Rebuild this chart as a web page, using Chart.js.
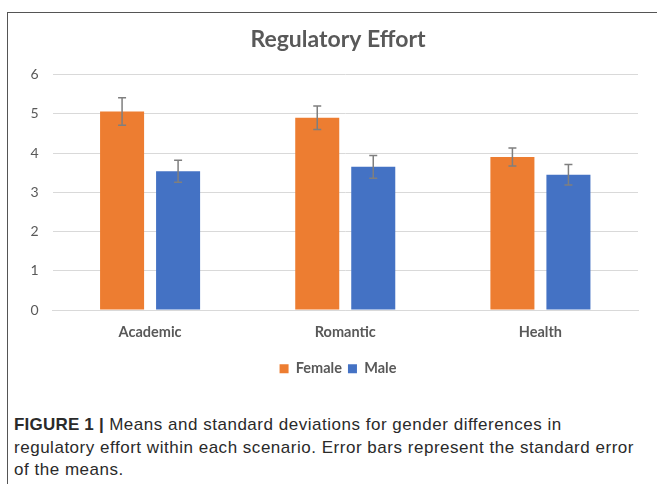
<!DOCTYPE html>
<html>
<head>
<meta charset="utf-8">
<script src="https://cdn.jsdelivr.net/npm/chart.js@4/dist/chart.umd.min.js"></script>
<style>
  body { margin: 0; background: #fff; width: 657px; height: 484px; overflow: hidden; position: relative; }
  #frame { position: absolute; left: 7px; top: 12px; width: 700px; height: 500px; border-left: 1.5px solid #555; border-top: 1.5px solid #555; }
  #wrap { position: absolute; left: 0; top: 0; width: 687px; height: 390px; }
  #caption { position: absolute; left: 14px; top: 414px; font-family: "Liberation Sans", Arial, sans-serif; font-size: 17px; letter-spacing: 0.52px; line-height: 22.5px; color: #2a2a2a; white-space: nowrap; }
  #caption b { font-weight: bold; letter-spacing: 0.2px; }
</style>
</head>
<body>
<div id="frame"></div>
<div id="wrap"><canvas id="effortChart"></canvas></div>
<div id="caption"><b>FIGURE 1 |</b> Means and standard deviations for gender differences in<br>regulatory effort within each scenario. Error bars represent the standard error<br>of the means.</div>
<script>
// 1. DATA
const categories = ['Academic', 'Romantic', 'Health'];
const femaleMeans = [5.06, 4.90, 3.90];
const maleMeans = [3.54, 3.65, 3.45];
const femaleSE = [0.35, 0.30, 0.23];
const maleSE = [0.28, 0.29, 0.26];
const yTicks = [0, 1, 2, 3, 4, 5, 6];

const textGray = '#595959';
const chartFont = 'Lato, "Open Sans", sans-serif';

// 2. ERROR BAR PLUGIN
const errorBars = {
    id: 'errorBars',
    afterDatasetsDraw(chart) {
        const ctx = chart.ctx;
        const y = chart.scales.y;
        const seLists = [femaleSE, maleSE];
        ctx.save();
        ctx.strokeStyle = '#7f7f7f';
        ctx.lineWidth = 1.5;
        chart.data.datasets.forEach((ds, i) => {
            const meta = chart.getDatasetMeta(i);
            meta.data.forEach((bar, j) => {
                const v = ds.data[j], se = seLists[i][j];
                const top = y.getPixelForValue(v + se);
                const bot = y.getPixelForValue(v - se);
                const x = bar.x;
                ctx.beginPath();
                ctx.moveTo(x, top); ctx.lineTo(x, bot);
                ctx.moveTo(x - 4, top); ctx.lineTo(x + 4, top);
                ctx.moveTo(x - 4, bot); ctx.lineTo(x + 4, bot);
                ctx.stroke();
            });
        });
        ctx.restore();
    }
};

// 3. CHART
// canvas is wider than the page + an empty right axis, so title and legend centre on the framed box
const ctx = document.getElementById('effortChart').getContext('2d');
new Chart(ctx, {
    type: 'bar',
    data: {
        labels: categories,
        datasets: [
            { label: 'Female', data: femaleMeans, backgroundColor: '#ED7D31' },
            { label: 'Male', data: maleMeans, backgroundColor: '#4472C4' }
        ]
    },
    options: {
        responsive: true,
        maintainAspectRatio: false,
        animation: false,
        layout: { padding: { left: 8, right: 19, top: 14, bottom: 4 } },
        datasets: { bar: { categoryPercentage: 0.574, barPercentage: 0.786 } },
        plugins: {
            title: {
                display: true,
                text: 'Regulatory Effort',
                color: textGray,
                font: { family: chartFont, size: 23, weight: 'bold' },
                padding: { top: 12, bottom: 21 }
            },
            legend: {
                position: 'bottom',
                labels: {
                    color: textGray,
                    font: { family: chartFont, size: 14.5, weight: 'bold' },
                    boxWidth: 9, boxHeight: 9, padding: 6
                }
            },
            tooltip: { enabled: false }
        },
        scales: {
            x: {
                grid: { display: false, drawTicks: false },
                border: { color: '#d9d9d9' },
                ticks: { color: textGray, font: { family: chartFont, size: 14.5, weight: 'bold' }, padding: 14 }
            },
            y: {
                min: 0, max: 6,
                afterBuildTicks: (axis) => { axis.ticks = yTicks.map(v => ({ value: v })); },
                afterFit: (axis) => { axis.width = 44.5; },
                grid: { color: '#d9d9d9', drawTicks: false },
                border: { display: false },
                ticks: { color: textGray, font: { family: chartFont, size: 14 }, padding: 14 }
            },
            spacer: {
                type: 'linear',
                position: 'right',
                min: 0, max: 6,
                afterFit: (axis) => { axis.width = 30; },
                grid: { display: false },
                border: { display: false },
                ticks: { display: false }
            }
        }
    },
    plugins: [errorBars]
});
</script>
</body>
</html>
